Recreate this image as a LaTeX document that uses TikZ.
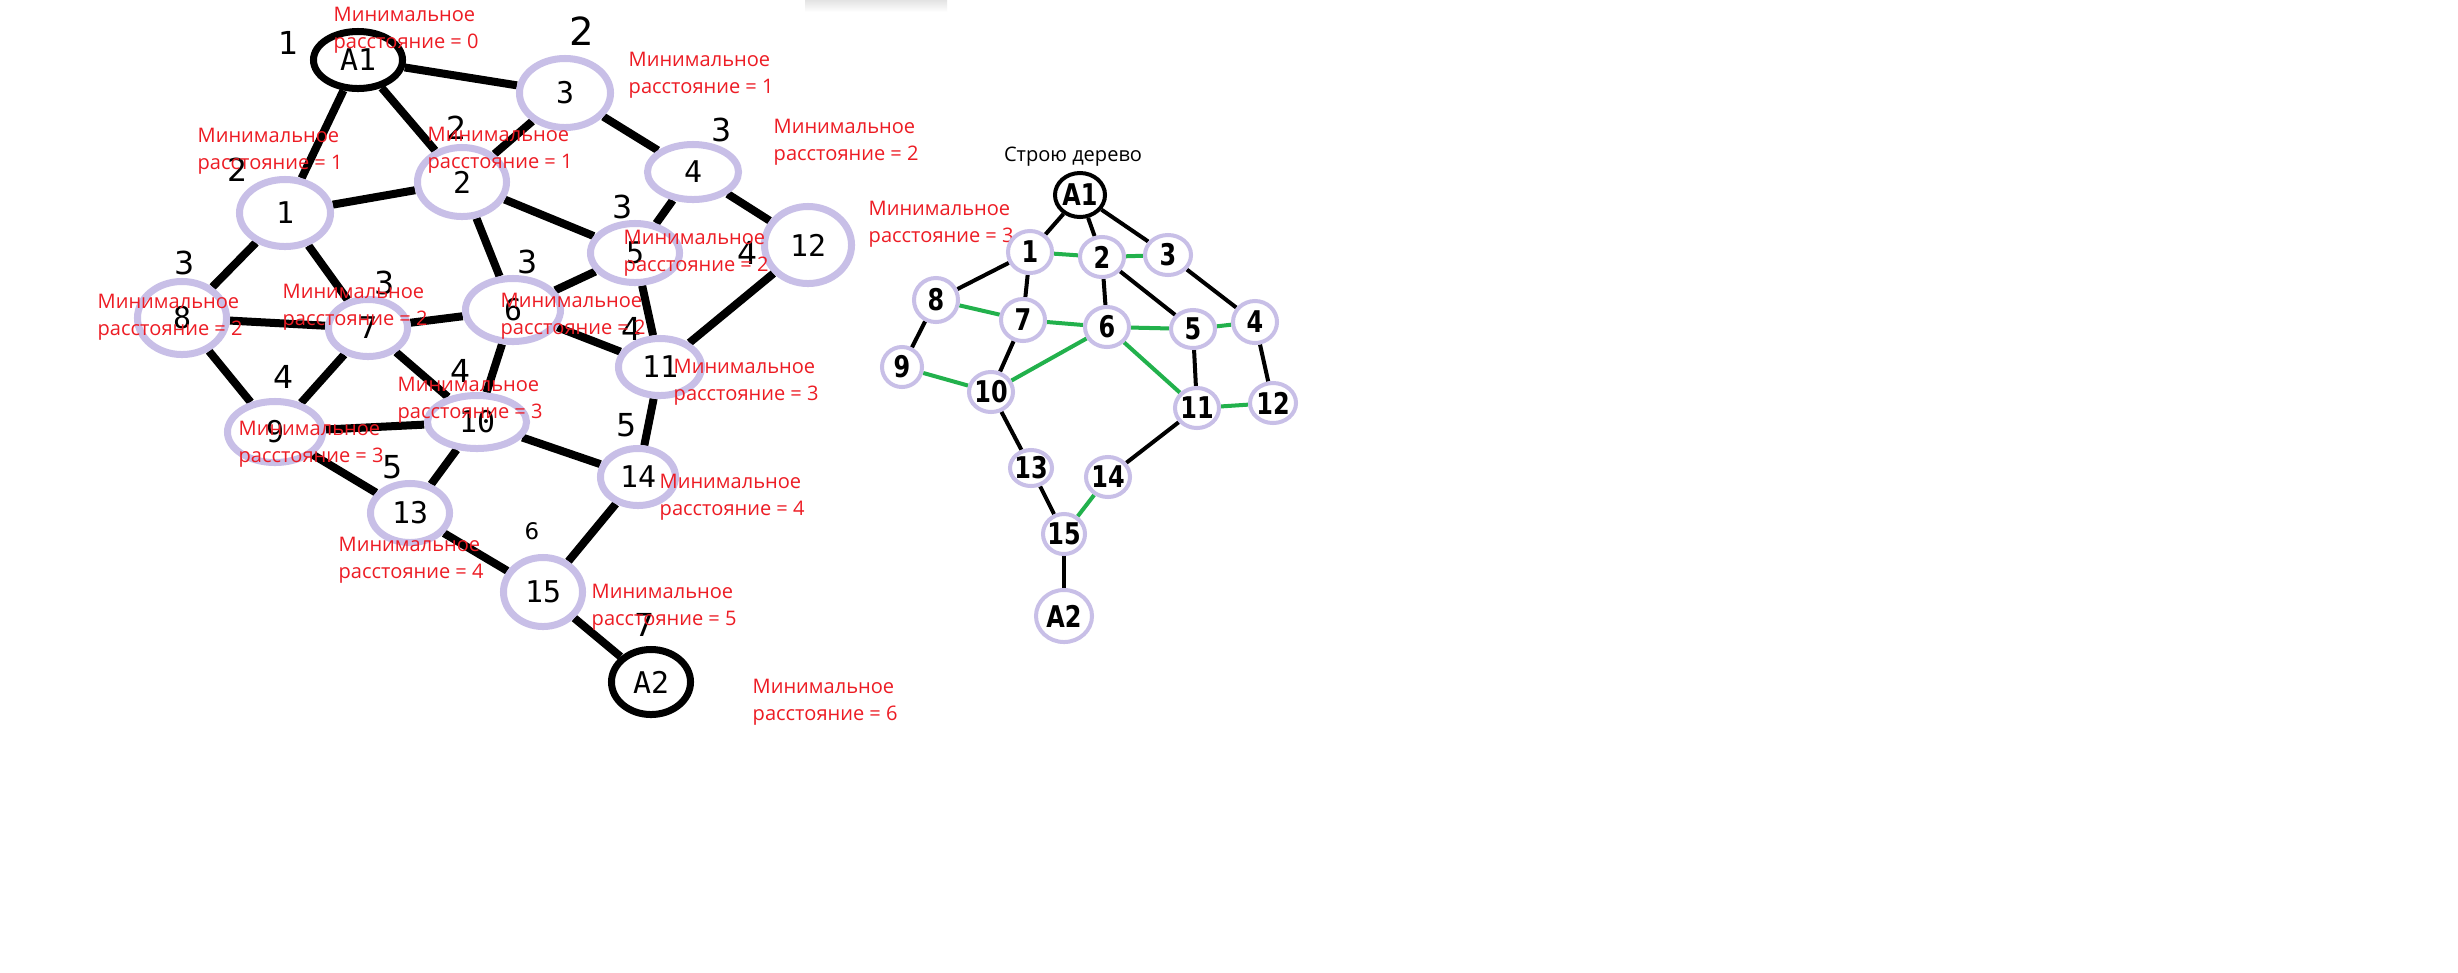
\documentclass[tikz,border=0pt]{standalone}
\usepackage{fontspec}
\setmainfont{Open Sans}
\newfontfamily\monof{DejaVu Sans Mono}
\newfontfamily\handf{DejaVu Sans}
\newfontfamily\treef[FakeStretch=0.8]{DejaVu Sans}
\usetikzlibrary{shapes.geometric}
\definecolor{lav}{RGB}{200,191,231}
\definecolor{pgreen}{RGB}{34,177,76}
\definecolor{pred}{RGB}{237,28,36}
\pgfdeclarelayer{bg}
\pgfdeclarelayer{back}
\pgfsetlayers{back,bg,main}
\newcommand\zb[1]{\makebox[0pt]{#1}}
\tikzset{
  lv/.style={ellipse, draw=lav, line width=0.07cm, fill=white, inner sep=0pt,
    font=\monof\fontsize{8.5}{8.5}\selectfont},
  lb/.style={lv, draw=black},
  ledge/.style={line width=0.08cm, black},
  rv/.style={ellipse, draw=lav, line width=0.04cm, fill=white, inner sep=0pt,
    font=\treef\bfseries\fontsize{8.5}{8.5}\selectfont},
  rb/.style={rv, draw=black},
  rblk/.style={line width=0.04cm, black},
  rgrn/.style={line width=0.04cm, pgreen},
  lbl/.style={text=pred, align=left, anchor=west, inner sep=0pt,
    font=\fontsize{5.7}{7.68}\selectfont},
  ord/.style={inner sep=0pt, font=\handf\fontsize{9}{9}\selectfont},
}
\begin{document}
\begin{tikzpicture}[x=0.01cm, y=-0.01cm]
\useasboundingbox (0,0) rectangle (2458,972);
\begin{pgfonlayer}{back}
\fill[white] (0,0) rectangle (2458,972);
\shade[top color=gray!22, bottom color=white] (805,0) rectangle (947,12);
\end{pgfonlayer}

% ---------- left graph nodes ----------
\node[lb, minimum width=0.89cm, minimum height=0.57cm] (LA1) at (358,60) {\zb{A1}};
\node[lv, minimum width=0.91cm, minimum height=0.67cm] (L1) at (285,213) {\zb{1}};
\node[lv, minimum width=0.89cm, minimum height=0.69cm] (L2) at (462,182) {\zb{2}};
\node[lv, minimum width=0.91cm, minimum height=0.69cm] (L3) at (565,93) {\zb{3}};
\node[lv, minimum width=0.91cm, minimum height=0.55cm] (L4) at (693,172) {\zb{4}};
\node[lv, minimum width=0.87cm, minimum height=0.77cm] (L12) at (808,245) {\zb{12}};
\node[lv, minimum width=0.89cm, minimum height=0.59cm] (L5) at (635,253) {\zb{5}};
\node[lv, minimum width=0.95cm, minimum height=0.63cm] (L6) at (513,310) {\zb{6}};
\node[lv, minimum width=0.79cm, minimum height=0.57cm] (L7) at (368,328) {\zb{7}};
\node[lv, minimum width=0.89cm, minimum height=0.73cm] (L8) at (182,318) {\zb{8}};
\node[lv, minimum width=0.95cm, minimum height=0.61cm] (L9) at (275,432) {\zb{9}};
\node[lv, minimum width=0.99cm, minimum height=0.53cm] (L10) at (477,422) {\zb{10}};
\node[lv, minimum width=0.83cm, minimum height=0.57cm] (L11) at (660,367) {\zb{11}};
\node[lv, minimum width=0.75cm, minimum height=0.57cm] (L14) at (638,477) {\zb{14}};
\node[lv, minimum width=0.79cm, minimum height=0.59cm] (L13) at (410,513) {\zb{13}};
\node[lv, minimum width=0.79cm, minimum height=0.69cm] (L15) at (543,592) {\zb{15}};
\node[lb, minimum width=0.79cm, minimum height=0.65cm] (LA2) at (651,682) {\zb{A2}};

\begin{pgfonlayer}{bg}
\draw[ledge] (LA1) -- (L1);
\draw[ledge] (LA1) -- (L2);
\draw[ledge] (LA1) -- (L3);
\draw[ledge] (L1) -- (L2);
\draw[ledge] (L1) -- (L8);
\draw[ledge] (L1) -- (L7);
\draw[ledge] (L2) -- (L3);
\draw[ledge] (L2) -- (L5);
\draw[ledge] (L2) -- (L6);
\draw[ledge] (L3) -- (L4);
\draw[ledge] (L4) -- (L5);
\draw[ledge] (L4) -- (L12);
\draw[ledge] (L12) -- (L11);
\draw[ledge] (L5) -- (L6);
\draw[ledge] (L5) -- (L11);
\draw[ledge] (L6) -- (L7);
\draw[ledge] (L6) -- (L10);
\draw[ledge] (L6) -- (L11);
\draw[ledge] (L7) -- (L8);
\draw[ledge] (L7) -- (L9);
\draw[ledge] (L7) -- (L10);
\draw[ledge] (L8) -- (L9);
\draw[ledge] (L9) -- (L10);
\draw[ledge] (L9) -- (L13);
\draw[ledge] (L10) -- (L13);
\draw[ledge] (L10) -- (L14);
\draw[ledge] (L11) -- (L14);
\draw[ledge] (L13) -- (L15);
\draw[ledge] (L14) -- (L15);
\draw[ledge] (L15) -- (LA2);
\end{pgfonlayer}

% ---------- handwritten order numbers ----------
\node[ord] (o1) at (289,43) {1};
\node[ord, font=\handf\fontsize{11}{11}\selectfont] (o2a) at (582,31) {2};
\node[ord] (o2b) at (457,128) {2};
\node[ord] (o2c) at (238,170) {2};
\node[ord] (o3a) at (185,263) {3};
\node[ord] (o3b) at (385,283) {3};
\node[ord] (o3c) at (722,130) {3};
\node[ord] (o3d) at (623,207) {3};
\node[ord] (o3e) at (528,262) {3};
\node[ord] (o4a) at (748,253) {4};
\node[ord] (o4b) at (632,329) {4};
\node[ord] (o4c) at (284,377) {4};
\node[ord] (o4d) at (461,371) {4};
\node[ord] (o5a) at (393,467) {5};
\node[ord] (o5b) at (627,425) {5};
\node[ord, font=\handf\fontsize{6.5}{6.5}\selectfont] (o6) at (532,531) {6};
\node[ord] (o7) at (645,625) {7};

% ---------- red labels ----------
\node[lbl] (tA1) at (333,30) {Минимальное\\расстояние = 0};
\node[lbl] (t3) at (628,75) {Минимальное\\расстояние = 1};
\node[lbl] (t1) at (197,151) {Минимальное\\расстояние = 1};
\node[lbl] (t2) at (427,150) {Минимальное\\расстояние = 1};
\node[lbl] (t4) at (773,142) {Минимальное\\расстояние = 2};
\node[lbl] (t12) at (868,224) {Минимальное\\расстояние = 3};
\node[lbl] (t5) at (623,253) {Минимальное\\расстояние = 2};
\node[lbl] (t6) at (500,316) {Минимальное\\расстояние = 2};
\node[lbl] (t7) at (282,307) {Минимальное\\расстояние = 2};
\node[lbl] (t8) at (97,317) {Минимальное\\расстояние = 2};
\node[lbl] (t9) at (238,444) {Минимальное\\расстояние = 3};
\node[lbl] (t10) at (397,400) {Минимальное\\расстояние = 3};
\node[lbl] (t11) at (673,382) {Минимальное\\расстояние = 3};
\node[lbl] (t14) at (659,497) {Минимальное\\расстояние = 4};
\node[lbl] (t13) at (338,560) {Минимальное\\расстояние = 4};
\node[lbl] (t15) at (591,607) {Минимальное\\расстояние = 5};
\node[lbl] (tA2) at (752,702) {Минимальное\\расстояние = 6};

% ---------- right tree ----------
\node[inner sep=0pt, font=\fontsize{5.7}{5.7}\selectfont] (title) at (1073,157) {Строю дерево};
\node[rb, minimum width=0.50cm, minimum height=0.44cm] (RA1) at (1080,195) {\zb{A1}};
\node[rv, minimum width=0.44cm, minimum height=0.42cm] (R1) at (1030,252) {\zb{1}};
\node[rv, minimum width=0.44cm, minimum height=0.40cm] (R2) at (1102,257) {\zb{2}};
\node[rv, minimum width=0.46cm, minimum height=0.40cm] (R3) at (1168,255) {\zb{3}};
\node[rv, minimum width=0.44cm, minimum height=0.44cm] (R8) at (936,300) {\zb{8}};
\node[rv, minimum width=0.44cm, minimum height=0.42cm] (R7) at (1023,320) {\zb{7}};
\node[rv, minimum width=0.44cm, minimum height=0.40cm] (R6) at (1107,327) {\zb{6}};
\node[rv, minimum width=0.44cm, minimum height=0.38cm] (R5) at (1193,329) {\zb{5}};
\node[rv, minimum width=0.44cm, minimum height=0.42cm] (R4) at (1255,322) {\zb{4}};
\node[rv, minimum width=0.40cm, minimum height=0.40cm] (R9) at (902,367) {\zb{9}};
\node[rv, minimum width=0.44cm, minimum height=0.40cm] (R10) at (991,392) {\zb{10}};
\node[rv, minimum width=0.44cm, minimum height=0.40cm] (R11) at (1197,408) {\zb{11}};
\node[rv, minimum width=0.46cm, minimum height=0.40cm] (R12) at (1273,403) {\zb{12}};
\node[rv, minimum width=0.42cm, minimum height=0.36cm] (R13) at (1031,468) {\zb{13}};
\node[rv, minimum width=0.44cm, minimum height=0.40cm] (R14) at (1108,477) {\zb{14}};
\node[rv, minimum width=0.42cm, minimum height=0.40cm] (R15) at (1064,534) {\zb{15}};
\node[rv, minimum width=0.56cm, minimum height=0.52cm] (RA2) at (1064,616) {\zb{A2}};

\begin{pgfonlayer}{bg}
\draw[rblk] (RA1) -- (R1);
\draw[rblk] (RA1) -- (R2);
\draw[rblk] (RA1) -- (R3);
\draw[rblk] (R1) -- (R8);
\draw[rblk] (R1) -- (R7);
\draw[rblk] (R2) -- (R6);
\draw[rblk] (R2) -- (R5);
\draw[rblk] (R3) -- (R4);
\draw[rblk] (R8) -- (R9);
\draw[rblk] (R7) -- (R10);
\draw[rblk] (R5) -- (R11);
\draw[rblk] (R4) -- (R12);
\draw[rblk] (R10) -- (R13);
\draw[rblk] (R11) -- (R14);
\draw[rblk] (R13) -- (R15);
\draw[rblk] (R15) -- (RA2);
\draw[rgrn] (R1) -- (R2);
\draw[rgrn] (R2) -- (R3);
\draw[rgrn] (R8) -- (R7);
\draw[rgrn] (R7) -- (R6);
\draw[rgrn] (R6) -- (R5);
\draw[rgrn] (R5) -- (R4);
\draw[rgrn] (R9) -- (R10);
\draw[rgrn] (R10) -- (R6);
\draw[rgrn] (R6) -- (R11);
\draw[rgrn] (R11) -- (R12);
\draw[rgrn] (R14) -- (R15);
\end{pgfonlayer}
\end{tikzpicture}
\end{document}
